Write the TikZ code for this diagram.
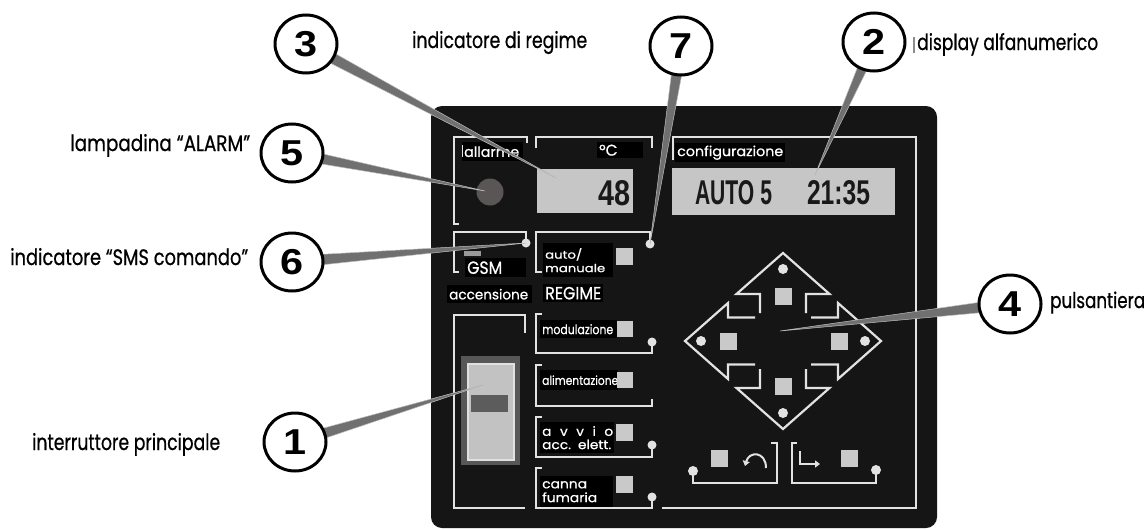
\documentclass[tikz,border=0pt]{standalone}
\usepackage{fontspec}
\setmainfont{Poppins}[FakeBold=0.7]
\newfontfamily\numfont{Liberation Sans}
\usetikzlibrary{calc,arrows.meta,shapes.geometric}
\definecolor{panel}{HTML}{151515}
\definecolor{wl}{HTML}{E2E2E2}
\definecolor{lcd}{HTML}{C6C6C6}
\definecolor{btn}{HTML}{C9C9C9}
\definecolor{wedgec}{HTML}{707070}
\definecolor{wedgee}{HTML}{BDBDBD}
\definecolor{lampc}{HTML}{5A5656}
\pgfdeclarelayer{top}
\pgfsetlayers{main,top}
\begin{document}
\begin{tikzpicture}[x=1pt,y=-1pt,
  frame/.style={draw=wl,line width=2.2pt,line join=miter},
  dotw/.style={circle,fill=wl,inner sep=0pt,minimum size=9pt},
  btnsq/.style={fill=btn,inner sep=0pt,minimum size=17pt},
  lbl/.style={fill=black,text=white,inner xsep=2pt,inner ysep=0pt,align=left,anchor=north west},
  olabel/.style={inner sep=0pt,anchor=base west,text=black},
  lcdbox/.style={fill=lcd,inner sep=0pt,anchor=north west},
  lcdtxt/.style={inner sep=0pt,text=black!90,font=\numfont\bfseries},
  callout/.style={ellipse,draw=black,line width=3pt,fill=white,minimum width=62pt,minimum height=58pt,inner sep=0pt,font=\numfont\bfseries\fontsize{36}{36}\selectfont},
  ptr/.style={fill=wedgec,draw=wedgee,line width=0.5pt,line join=round}]
\useasboundingbox (0,0) rectangle (1146,530);

% panel
\fill[panel,rounded corners=11pt] (431,106) rectangle (937,528);

% frames
\draw[frame] (527,143) -- (527,137) -- (454,137) -- (454,224) -- (459,224);
\draw[frame] (536,148) -- (536,137) -- (652,137) -- (652,148);
\draw[frame] (673,160) -- (673,137) -- (916,137) -- (916,508) -- (662,508);
\draw[frame] (459,272) -- (454,272) -- (454,232) -- (526,232) -- (526,243);
\draw[frame] (542,272) -- (536,272) -- (536,232) -- (650,232) -- (650,244);
\draw[frame] (525,333) -- (525,315) -- (454,315) -- (454,508) -- (525,508);
\draw[frame] (542,314) -- (536,314) -- (536,353) -- (652,353) -- (652,342);
\draw[frame] (542,365) -- (536,365) -- (536,406) -- (652,406) -- (652,399);
\draw[frame] (542,417) -- (536,417) -- (536,457) -- (652,457) -- (652,445);
\draw[frame] (542,468) -- (536,468) -- (536,508) -- (652,508) -- (652,497);

\node[dotw] (dGSM) at (526,243) {};
\node[dotw] (dAuto) at (650,244) {};
\node[dotw] (dMod) at (652,342) {};
\node[dotw] (dAvv) at (652,445) {};
\node[dotw] (dCan) at (652,497) {};

% labels inside panel
\node[lbl,text width=57pt,minimum height=19pt] (lAll) at (462,142) {\resizebox{55pt}{10.5pt}{allarme}};
\draw[wl,line width=1pt] (462.5,145) -- (462.5,157);
\node[lbl,text width=42pt,minimum height=16pt] (lDeg) at (597,142) {\resizebox{!}{11pt}{°C}};
\node[lbl,text width=106pt,minimum height=19pt] (lConf) at (675,143) {\resizebox{106pt}{10.5pt}{configurazione}};
\node[lbl,text width=57pt,minimum height=19pt] (lGSM) at (465,258) {\resizebox{35pt}{12.5pt}{GSM}};
\node[lbl,text width=66pt,minimum height=34pt] (lAuto) at (543,243) {\resizebox{60pt}{24pt}{\shortstack[l]{auto/\\manuale}}};
\node[lbl,text width=81pt,minimum height=18pt] (lAcc) at (447,285) {\resizebox{79pt}{10.5pt}{accensione}};
\node[lbl,text width=56pt,minimum height=18pt] (lReg) at (543,284) {\resizebox{56pt}{12.5pt}{REGIME}};
\node[lbl,text width=73pt,minimum height=18pt] (lMod) at (540,320) {\resizebox{71pt}{10pt}{modulazione}};
\node[lbl,text width=74pt,minimum height=20pt] (lAlim) at (540,370) {\resizebox{76pt}{9.5pt}{alimentazione}};
\node[lbl,text width=70pt,minimum height=31pt] (lAvv) at (540,422) {\resizebox{71pt}{23pt}{\shortstack[l]{{\spaceskip=0.62em a v v i o}\\acc. elett.}}};
\node[lbl,text width=69pt,minimum height=31pt] (lCan) at (540,476) {\resizebox{55pt}{21pt}{\shortstack[l]{canna\\fumaria}}};

% buttons left column
\node[btnsq] (bAuto) at (624.5,256.5) {};
\node[btnsq,minimum size=16pt] (bMod) at (625,329) {};
\node[btnsq,minimum size=16pt] (bAlim) at (625,380) {};
\node[btnsq] (bAvv) at (624,432) {};
\node[btnsq] (bCan) at (624,484) {};

% displays
\node[lcdbox,minimum width=96pt,minimum height=44pt] (d48) at (537,169) {};
\node[lcdtxt,anchor=east] (t48) at (631,193) {\resizebox{32pt}{25pt}{48}};
\node[lcdbox,minimum width=223pt,minimum height=47pt] (dConf) at (672,168) {};
\node[lcdtxt] (tAuto) at (733.5,193) {\resizebox{77pt}{24pt}{AUTO 5}};
\node[lcdtxt] (tTime) at (838.5,193) {\resizebox{63pt}{24pt}{21:35}};

% lamp
\node[circle,fill=lampc,minimum size=27pt,inner sep=0pt] (lamp) at (490,192) {};
% sms indicator
\fill[black!40] (464,251) rectangle (481,256);

% main switch
\node[fill=black!66,minimum width=59pt,minimum height=109pt,inner sep=0pt,anchor=north west] (swO) at (461,356) {};
\node[fill=black!24,draw=black!12,line width=2pt,minimum width=46pt,minimum height=96pt,inner sep=0pt,anchor=north west] (swI) at (467,363) {};
\node[fill=black!64,minimum width=37pt,minimum height=17pt,inner sep=0pt,anchor=north west] (swB) at (471,395) {};

% keypad
\begin{scope}[shift={(783,341)}]
 \draw[frame] (-23,-28) -- (-23,-47) -- (-46.5,-47) -- (0,-88) -- (46.5,-47) -- (23,-47) -- (23,-28);
 \draw[frame] (-23,28) -- (-23,47) -- (-46.5,47) -- (0,88) -- (46.5,47) -- (23,47) -- (23,28);
 \draw[frame] (-28,-23.5) -- (-55,-23.5) -- (-55,-38) -- (-98,0) -- (-55,38) -- (-55,23.5) -- (-28,23.5);
 \draw[frame] (28,-23.5) -- (55,-23.5) -- (55,-38) -- (98,0) -- (55,38) -- (55,23.5) -- (28,23.5);
 \node[dotw,minimum size=10pt] (kdU) at (0,-72) {};
 \node[dotw,minimum size=10pt] (kdD) at (0,72) {};
 \node[dotw,minimum size=10pt] (kdL) at (-82,0) {};
 \node[dotw,minimum size=10pt] (kdR) at (82,0) {};
 \node[btnsq] (kbU) at (0,-45) {};
 \node[btnsq] (kbD) at (0,45) {};
 \node[btnsq] (kbL) at (-55,0) {};
 \node[btnsq] (kbR) at (56,0) {};
\end{scope}
% bottom keys
\draw[frame] (771,443) -- (777,443) -- (777,483) -- (693,483) -- (693,471);
\draw[frame] (797,443) -- (792,443) -- (792,483) -- (876,483) -- (876,470);
\node[dotw,minimum size=10pt] (kdBL) at (693,471) {};
\node[dotw,minimum size=10pt] (kdBR) at (876,470) {};
\node[btnsq] (kbBL) at (719,458) {};
\node[btnsq] (kbBR) at (849,458) {};
\draw[wl,line width=2pt,-{Triangle[length=5pt,width=7pt]}] (766,468) .. controls (766,451) and (749,451) .. (745,466);
\draw[wl,line width=2pt,-{Triangle[length=5pt,width=7pt]}] (800,451) -- (800,464) -- (820,464);

% display label mark
\fill[black!45] (912.5,37) rectangle (914.5,53);

% outside labels
\node[olabel] (tReg) at (412,48) {\resizebox{175pt}{17pt}{indicatore di regime}};
\node[olabel] (tDisp) at (917,50) {\resizebox{181pt}{17pt}{display alfanumerico}};
\node[olabel] (tAlarm) at (70,151) {\resizebox{180pt}{17pt}{lampadina “ALARM”}};
\node[olabel] (tSMS) at (10,265) {\resizebox{238pt}{17pt}{indicatore “SMS comando”}};
\node[olabel] (tInt) at (32,450) {\resizebox{188pt}{17pt}{interruttore principale}};
\node[olabel] (tPuls) at (1050,308) {\resizebox{95pt}{16.5pt}{pulsantiera}};

% callouts (top layer)
\begin{pgfonlayer}{top}
\node[callout] (c1) at (295,442) {\scalebox{1.15}[1]{1}};
\node[callout] (c2) at (874,42) {\scalebox{1.15}[1]{2}};
\node[callout] (c3) at (306,44) {\scalebox{1.15}[1]{3}};
\node[callout] (c4) at (1010,304) {\scalebox{1.15}[1]{4}};
\node[callout] (c5) at (292,153) {\scalebox{1.15}[1]{5}};
\node[callout] (c6) at (292,262) {\scalebox{1.15}[1]{6}};
\node[callout] (c7) at (681,46) {\scalebox{1.15}[1]{7}};
\end{pgfonlayer}

% pointer targets
\coordinate (t1) at (483,385);
\coordinate (t2) at (815,175);
\coordinate (t3) at (556,178);
\coordinate (t4) at (780,331);
\coordinate (t5) at (485,191);
\coordinate (t6) at (526,243);
\coordinate (t7) at (650,244);
\foreach \i in {1,...,7}{
  \filldraw[ptr] ($(c\i.center)!6pt!90:(t\i)$) -- (t\i) -- ($(c\i.center)!6pt!-90:(t\i)$) -- cycle;
}
\end{tikzpicture}
\end{document}
